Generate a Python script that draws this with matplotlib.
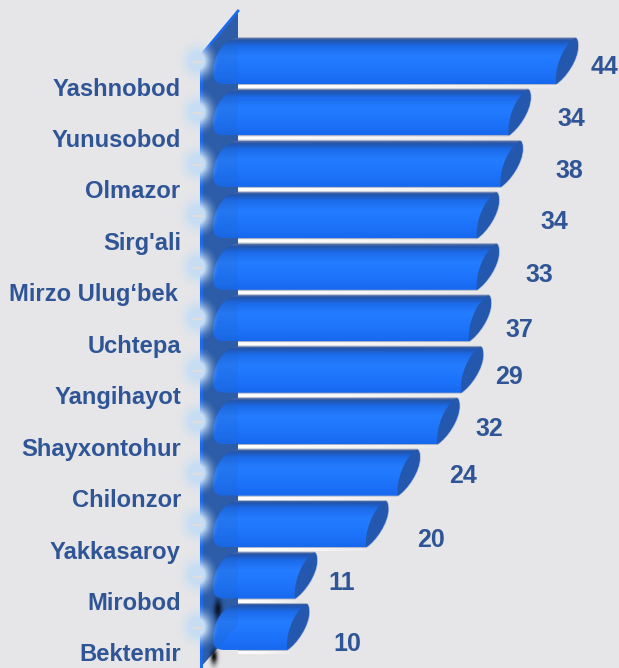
import matplotlib
matplotlib.use("Agg")
import matplotlib.pyplot as plt
import numpy as np
from matplotlib.path import Path
from matplotlib.patches import PathPatch, Polygon, Rectangle

# Districts, top to bottom
districts = ["Yashnobod", "Yunusobod", "Olmazor", "Sirg'ali", "Mirzo Ulug‘bek", "Uchtepa",
             "Yangihayot", "Shayxontohur", "Chilonzor", "Yakkasaroy", "Mirobod", "Bektemir"]
# Bar lengths and the printed labels do not agree in the source chart
bar_values = [44, 38, 37, 34, 34, 33, 32, 29, 24, 20, 11, 10]
bar_labels = [44, 34, 38, 34, 33, 37, 29, 32, 24, 20, 11, 10]

# Label offsets from the bar end / bar centre, in pixels (dy is downwards)
label_dx = [26, 41, 47, 55, 40, 28, 26, 30, 43, 43, 25, 38]
label_dy = [6, 7, 7, 7, 8, 12, 7, 8, 3, 16, 7, 17]
name_right = [181, 181, 180, 181, 178, 181, 181, 181, 181, 180, 181, 181]

BG = "#e6e6e8"
TEXT = "#2f5597"
WALL = "#2d5da8"
CAP = "#2358ae"

W, H = 619, 668
fig = plt.figure(figsize=(W / 100, H / 100), dpi=100, facecolor=BG)
ax = fig.add_axes([0, 0, 1, 1])
ax.set_facecolor(BG)
ax.axis("off")

# value scale: 0 sits at x=230px, 7.91 px per unit; categories every 51.45 px from y=61
PX = 7.91
X0 = 230
ROW = 51.45
Y0 = 61
xlim = (-X0 / PX, (W - X0) / PX)
ylim = ((H - Y0) / ROW, -Y0 / ROW)
ax.set_xlim(xlim)
ax.set_ylim(ylim)


def dx(px):
    return (px - X0) / PX


def dy(py):
    return (py - Y0) / ROW


# wall
wall = [(dx(200), dy(57)), (dx(238), dy(10)), (dx(238), dy(625)), (dx(200), dy(668))]
ax.add_patch(Polygon(wall, closed=True, fc=WALL, ec="none", zorder=1))
ax.plot([dx(201), dx(201)], [dy(55), dy(668)], color="#1a6cf5", lw=2.2, zorder=1.2)
ax.plot([dx(203), dx(238)], [dy(53), dy(11)], color="#1a6cf5", lw=2, zorder=1.2)

# gradient for the bar body, dark top edge then bright
stops = np.array([0, 0.05, 0.18, 0.4, 0.75, 1.0])
cols = np.array([[0.35, 0.45, 0.65], [0.13, 0.33, 0.67], [0.11, 0.42, 0.92],
                 [0.14, 0.49, 1.00], [0.11, 0.45, 0.98], [0.09, 0.41, 0.93]])
t = np.linspace(0, 1, 128)
grad = np.stack([np.interp(t, stops, cols[:, i]) for i in range(3)], axis=1)[:, None, :]

# white stripe under a bar, fading out to the right
stripe = np.ones((1, 128, 4))
stripe[..., 3] = np.interp(np.linspace(0, 1, 128), [0, 0.5, 1], [0.95, 0.7, 0.15])

half = 23 / ROW
for i, (name, val, lab) in enumerate(zip(districts, bar_values, bar_labels)):
    top, bot = i - half, i + half
    xe = val
    xl = dx(213)
    xw = dx(238)
    c = 3 / PX

    ax.imshow(stripe, extent=(xw, xe - 20 / PX, bot + 4 / ROW, bot + 1.5 / ROW), aspect="auto", zorder=1.5)

    verts = [(xw, top),
             (xe - c, top), (xe, top), (xe, top + 8 / ROW),
             (xe, top + 22 / ROW), (xe - 1.6, bot - 6 / ROW), (xe - 22 / PX, bot),
             (xl + 11 / PX, bot),
             (xl + 2 / PX, bot), (xl, bot - 5 / ROW), (xl, bot - 12 / ROW),
             (xl, top + 20 / ROW), (xl + 10 / PX, top), (xw, top),
             (xw, top)]
    codes = [Path.MOVETO, Path.LINETO, Path.CURVE3, Path.CURVE3, Path.CURVE4, Path.CURVE4, Path.CURVE4,
             Path.LINETO, Path.CURVE4, Path.CURVE4, Path.CURVE4, Path.CURVE4, Path.CURVE4, Path.CURVE4,
             Path.CLOSEPOLY]
    # soft edge round the bar, only right of the wall
    edge = PathPatch(Path(verts, codes), fc="none", ec="#7a8db5", lw=1.2, alpha=0.6, zorder=1.9)
    ax.add_patch(edge)
    edge.set_clip_path(Rectangle((xw, top - 1), xe + 5 - xw, 3, transform=ax.transData))
    body = PathPatch(Path(verts, codes), fc="none", ec="none", transform=ax.transData)
    ax.add_patch(body)
    im = ax.imshow(grad, extent=(xl, xe, bot, top), aspect="auto", zorder=2, interpolation="bilinear")
    im.set_clip_path(body)

    # end cap
    cap = [(xe - c, top),
           (xe, top), (xe, top + 8 / ROW),
           (xe, top + 22 / ROW), (xe - 1.6, bot - 6 / ROW), (xe - 22 / PX, bot),
           (xe - 24 / PX, bot - 14 / ROW), (xe - 16 / PX, top + 8 / ROW), (xe - c, top),
           (xe - c, top)]
    cap_codes = [Path.MOVETO, Path.CURVE3, Path.CURVE3, Path.CURVE4, Path.CURVE4, Path.CURVE4,
                 Path.CURVE4, Path.CURVE4, Path.CURVE4, Path.CLOSEPOLY]
    ax.add_patch(PathPatch(Path(cap, cap_codes), fc=CAP, ec="none", zorder=3))

    ax.text(dx(name_right[i]), i + 28 / ROW, name, ha="right", va="center", color=TEXT,
            fontsize=17.1, fontweight="bold", family="Liberation Sans", zorder=6)
    ax.annotate(str(lab), (val, i), xytext=(label_dx[i], -label_dy[i]), textcoords="offset pixels",
                ha="center", va="center", color=TEXT, fontsize=18, fontweight="bold",
                family="Liberation Sans", zorder=6)

# slightly darker where the bars pass in front of the wall
ax.add_patch(Polygon(wall, closed=True, fc=WALL, ec="none", alpha=0.16, zorder=4))

# soft glow and tick at each category
yy, xx = np.mgrid[-1:1:64j, -1:1:64j]
glow = np.zeros((64, 64, 4))
glow[..., 0], glow[..., 1], glow[..., 2] = 0.78, 0.87, 0.96
glow[..., 3] = np.clip(1.5 * np.exp(-(xx ** 2 + yy ** 2) * 2.8) - 0.08, 0, 1)
for i in range(len(districts)):
    ax.imshow(glow, extent=(dx(176), dx(219), i + 24 / ROW, i - 24 / ROW), aspect="auto", zorder=5)
    ax.plot([dx(194), dx(201)], [i + 1 / ROW, i + 1 / ROW], color="#e4ded6", lw=1.4, zorder=5.5)

# dark shadow where the last bar meets the wall
shadow = np.zeros((64, 64, 4))
shadow[..., 3] = np.exp(-((xx / 0.5) ** 2 + (yy / 0.9) ** 2) * 2.0) * 0.95
ax.imshow(shadow, extent=(dx(207), dx(229), 11 - 2 / ROW, 11 - 34 / ROW), aspect="auto", zorder=1.8)
ax.imshow(shadow, extent=(dx(204), dx(224), 11 + 42 / ROW, 11 + 18 / ROW), aspect="auto", zorder=1.8)

ax.set_xlim(xlim)
ax.set_ylim(ylim)
fig.savefig("out.png", dpi=100, facecolor=BG)
